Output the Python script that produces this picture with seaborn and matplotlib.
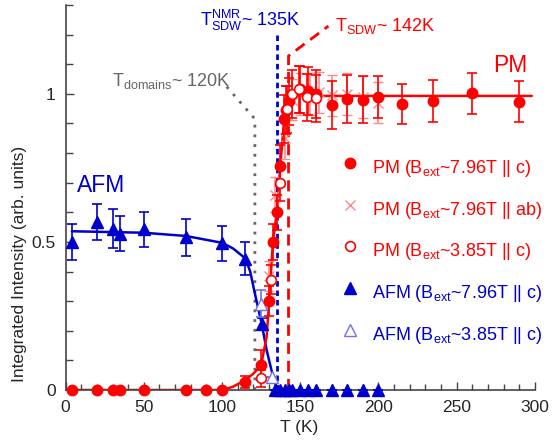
import numpy as np
import pandas as pd
import seaborn as sns
import matplotlib.pyplot as plt
from matplotlib.ticker import MultipleLocator

# data
pm_c_T = [4, 20, 30, 35, 50, 77, 90, 100, 115, 125, 130, 132.5, 135, 137.3, 139.5,
          141, 143, 150, 155, 160, 170, 180, 190, 200, 215, 235, 260, 290]
pm_c_I = [0, 0, 0, 0, 0, 0, 0, 0, 0.028, 0.084, 0.30, 0.50, 0.60, 0.758, 0.915,
          0.945, 0.975, 1.015, 1.01, 1.0, 0.962, 0.982, 0.98, 0.99, 0.965, 0.976, 1.002, 0.974]
pm_c_err = [0, 0, 0, 0, 0, 0, 0, 0, 0.02, 0.05, 0.05, 0.06, 0.06, 0.07, 0.08,
            0.08, 0.08, 0.08, 0.08, 0.08, 0.08, 0.08, 0.08, 0.07, 0.067, 0.07, 0.07, 0.068]

pm_ab_T = [130, 134, 140, 145, 150, 156, 162, 170, 180, 190, 200]
pm_ab_I = [0.385, 0.66, 0.85, 0.98, 1.0, 1.0, 1.005, 0.995, 1.0, 0.99, 0.97]
pm_ab_err = [0.05, 0.06, 0.07, 0.07, 0.07, 0.07, 0.07, 0.07, 0.07, 0.07, 0.07]

pm_lo_T = [125, 131.5, 137, 141.5, 145, 149.5, 154.5, 160]
pm_lo_I = [0.039, 0.373, 0.698, 0.948, 0.999, 1.015, 0.988, 0.985]
pm_lo_err = [0.03, 0.05, 0.06, 0.08, 0.08, 0.08, 0.08, 0.08]

afm_c_T = [4, 20, 30, 35, 50, 77, 100, 115, 125.5, 134, 137, 140, 142.5, 145,
           150, 155, 160, 170, 180, 190, 200]
afm_c_I = [0.50, 0.567, 0.545, 0.528, 0.542, 0.516, 0.495, 0.444, 0.224, 0, 0, 0, 0, 0,
           0, 0, 0, 0, 0, 0, 0]
afm_c_err = [0.06, 0.06, 0.066, 0.06, 0.06, 0.062, 0.06, 0.055, 0.02, 0, 0, 0, 0, 0,
             0, 0, 0, 0, 0, 0, 0]

afm_lo_T = [125, 132]
afm_lo_I = [0.292, 0.043]
afm_lo_err = [0.045, 0.0]

# guide-to-the-eye curves
fit_afm_T = [4, 50, 77, 100, 107, 115, 118, 121, 125.3, 128.5, 131.6, 133.5, 135, 136]
fit_afm_I = [0.536, 0.531, 0.52, 0.497, 0.478, 0.444, 0.40, 0.326, 0.225, 0.135, 0.067, 0.03, 0.008, 0]
fit_pm_T = [0, 100, 107, 115, 120, 125, 128.5, 130, 132.5, 135, 137.3, 139.5, 141, 143, 146, 150, 298]
fit_pm_I = [0, 0, 0.011, 0.034, 0.055, 0.084, 0.18, 0.29, 0.50, 0.60, 0.76, 0.90, 0.945, 0.975, 0.99, 0.993, 0.993]

T_domains = 121
T_nmr = 135
T_sdw = 142.5

red = '#ff0000'
blue = '#0000cc'
pink = '#ff8a8a'
lblue = '#7070ee'
grey = '#666666'

sns.set_theme(style='ticks')
plt.rcParams['font.family'] = ['Liberation Sans', 'DejaVu Sans']
plt.rcParams['mathtext.fontset'] = 'custom'
plt.rcParams['mathtext.rm'] = 'Liberation Sans'
plt.rcParams['mathtext.it'] = 'Liberation Sans:italic'

fig = plt.figure(figsize=(5.53, 4.45), dpi=100)
ax = fig.add_axes([0.1186, 0.1236, 0.8487, 0.8652])

# transition markers
ax.plot([T_domains, T_domains, 103], [0, 0.915, 1.024], ls=(0, (1, 2.5)), lw=2, color=grey, zorder=1)
ax.plot([T_nmr, T_nmr], [0, 1.206], ls=(0, (2, 1.4)), lw=2, color=blue, zorder=1)
ax.plot([T_sdw, T_sdw, 168], [0, 1.128, 1.229], ls=(0, (4, 2.5)), lw=2, color=red, zorder=1)

# fit curves
sns.lineplot(x=fit_afm_T, y=fit_afm_I, ax=ax, color=blue, lw=1.8, sort=False, estimator=None, zorder=2)
sns.lineplot(x=fit_pm_T, y=fit_pm_I, ax=ax, color=red, lw=1.8, sort=False, estimator=None, zorder=2)


def eb(x, y, e, **kw):
    c = ax.errorbar(x, y, yerr=e, ls='none', capsize=3.5, elinewidth=1.2, capthick=1.2, **kw)
    for a in c.get_children():
        a.set_clip_on(False)
    c[0].set_clip_on(False)
    return c


eb(afm_c_T, afm_c_I, afm_c_err, marker='^', ms=8.5, color=blue, mec=blue, zorder=4)
eb(afm_lo_T, afm_lo_I, afm_lo_err, marker='^', ms=8.5, color=lblue, mfc='white', mec=lblue, zorder=4)
eb(pm_ab_T, pm_ab_I, pm_ab_err, marker='x', ms=7, mew=1, color=pink, zorder=5)
eb(pm_c_T, pm_c_I, pm_c_err, marker='o', ms=7.5, color=red, mec=red, zorder=6)
eb(pm_lo_T, pm_lo_I, pm_lo_err, marker='o', ms=7, color=red, mfc='white', mec=red, mew=1.2, zorder=7)

ax.set_xlim(0, 300)
ax.set_ylim(0, 1.3)
ax.xaxis.set_major_locator(MultipleLocator(50))
ax.xaxis.set_minor_locator(MultipleLocator(10))
ax.set_yticks([0, 0.5, 1])
ax.set_yticklabels(['0', '0.5', '1'])
ax.yaxis.set_minor_locator(MultipleLocator(0.1))
ax.tick_params(which='both', direction='in', color='#444444', width=1, labelsize=12.5, pad=7)
ax.tick_params(axis='y', which='major', length=6)
ax.tick_params(axis='y', which='minor', length=5)
ax.tick_params(axis='x', which='major', length=6)
ax.tick_params(axis='x', which='minor', length=4)
for s in ['top', 'right']:
    ax.spines[s].set_visible(False)
for s in ['left', 'bottom']:
    ax.spines[s].set_color('#444444')
    ax.spines[s].set_linewidth(1.2)

ax.set_xlabel('T (K)', fontsize=12.5)
ax.set_ylabel('Integrated Intensity (arb. units)', fontsize=12.5)
ax.xaxis.set_label_coords(0.498, -0.078)
ax.yaxis.set_label_coords(-0.083, 0.328)

# annotations
ax.text(7.3, 0.668, 'AFM', color=blue, fontsize=16.5)
ax.text(273.4, 1.074, 'PM', color=red, fontsize=16.5)
ax.text(29.7, 1.027, r'T$_{\rm domains}$~ 120K', color=grey, fontsize=13)
ax.text(86, 1.229, r'T$^{\rm NMR}_{\rm SDW}$~ 135K', color=blue, fontsize=13)
ax.text(172.2, 1.212, r'T$_{\rm SDW}$~ 142K', color=red, fontsize=13)

# legend rows
legend_rows = [
    (dict(marker='o', ms=7.5, color=red), r'PM (B$_{\rm ext}$~7.96T || c)', red),
    (dict(marker='x', ms=7, mew=1, color=pink), r'PM (B$_{\rm ext}$~7.96T || ab)', red),
    (dict(marker='o', ms=7, color=red, mfc='white', mew=1.2), r'PM (B$_{\rm ext}$~3.85T || c)', red),
    (dict(marker='^', ms=8.5, color=blue), r'AFM (B$_{\rm ext}$~7.96T || c)', blue),
    (dict(marker='^', ms=8.5, color=lblue, mfc='white'), r'AFM (B$_{\rm ext}$~3.85T || c)', blue),
]
for i, (mk, lab, col) in enumerate(legend_rows):
    yb = (390 - (173 + 41.7 * i)) / 385
    ax.plot([(351 - 65.6) / 471], [yb + 10 / 385], transform=ax.transAxes, ls='none', clip_on=False, **mk)
    ax.text((373 - 65.6) / 471, yb, lab, transform=ax.transAxes, color=col, fontsize=13, va='baseline')

fig.savefig('out.png', dpi=100)
